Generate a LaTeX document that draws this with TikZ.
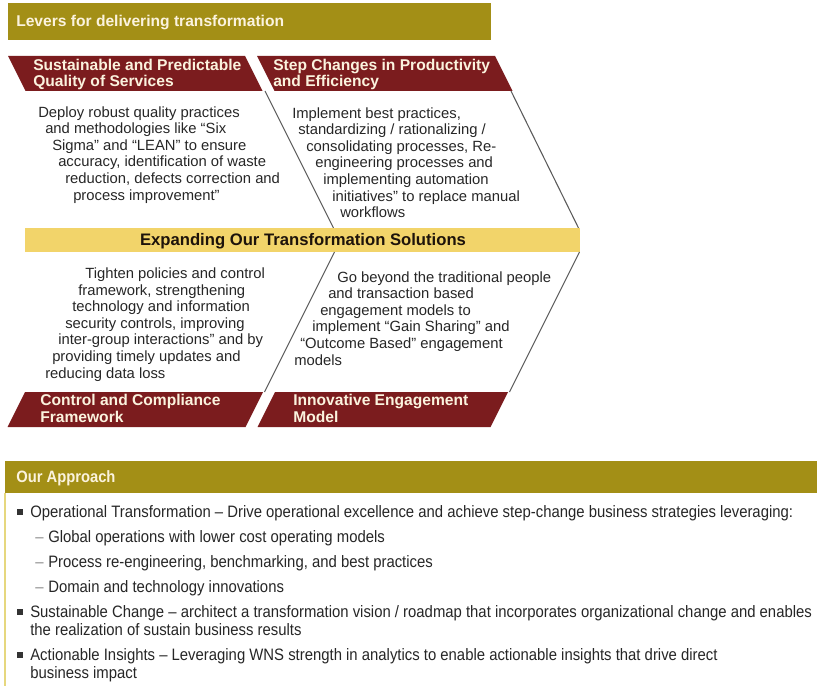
\documentclass[tikz,border=0pt]{standalone}
\usepackage{fontspec}
\setmainfont{Liberation Sans}
\newfontfamily\narrowfont[FakeStretch=0.9]{Liberation Sans}
\definecolor{hdrolive}{HTML}{A38F16}
\definecolor{tabred}{HTML}{7B1C1E}
\definecolor{bandgold}{HTML}{F2D46A}
\definecolor{creamtxt}{HTML}{FBF3DE}
\definecolor{bodytxt}{HTML}{262626}
\definecolor{boxline}{HTML}{E6D77E}
\definecolor{divline}{HTML}{5A5A5A}
\newlength\pxu \setlength\pxu{0.75pt}
\newcommand\ind[1]{\hspace*{#1\pxu}}
\tikzset{
  hdrbar/.style={fill=hdrolive},
  tabshape/.style={fill=tabred},
  divider/.style={draw=divline, line width=0.8pt},
  hdrtext/.style={anchor=base west, inner sep=0pt, text=creamtxt, font=\bfseries\fontsize{11.7}{12.75}\selectfont},
  tabtext/.style={anchor=base west, inner sep=0pt, align=left, text=creamtxt, font=\bfseries\fontsize{11.7}{12.75}\selectfont},
  bodytext/.style={anchor=base west, inner sep=0pt, align=left, text=bodytxt, font=\fontsize{11.1}{12.45}\selectfont},
  bandtext/.style={anchor=base, inner sep=0pt, text=black!85!brown, font=\bfseries\fontsize{12.5}{14}\selectfont},
  apptext/.style={anchor=base west, inner sep=0pt, align=left, text=bodytxt, font=\narrowfont\fontsize{12.4}{13.5}\selectfont},
  subdash/.style={anchor=base west, inner sep=0pt, text=black!45, font=\narrowfont\fontsize{12.4}{13.5}\selectfont},
  bulletsq/.style={fill=black!80, minimum size=4.2pt, inner sep=0pt},
}
\begin{document}
\begin{tikzpicture}[x=0.75pt,y=-0.75pt]
\useasboundingbox (0,0) rectangle (817,685);
% top header
\fill[hdrbar] (8,3) rectangle (491,40);
\node[hdrtext] (levers) at (16,27) {Levers for delivering transformation};
% upper tabs
\fill[tabshape] (8,56) -- (245,56) -- (262.5,91) -- (25.5,91) -- cycle;
\fill[tabshape] (257,56) -- (495,56) -- (512.5,91) -- (274.5,91) -- cycle;
\node[tabtext] (tabA) at (33,87) {Sustainable and Predictable\\Quality of Services};
\node[tabtext] (tabB) at (273,87) {Step Changes in Productivity\\and Efficiency};
% upper dividers
\coordinate (uda) at (265,91);
\coordinate (udb) at (333.5,228);
\coordinate (ura) at (511,91);
\coordinate (urb) at (578.5,228);
\draw[divider] (uda) -- (udb);
\draw[divider] (ura) -- (urb);
% band
\fill[bandgold] (25,228) rectangle (580,252);
\node[bandtext] (band) at (303,245.5) {Expanding Our Transformation Solutions};
% lower dividers
\coordinate (lda) at (334.5,252);
\coordinate (ldb) at (264.5,392);
\coordinate (lra) at (579.5,252);
\coordinate (lrb) at (509.5,392);
\draw[divider] (lda) -- (ldb);
\draw[divider] (lra) -- (lrb);
% lower tabs
\fill[tabshape] (25,392) -- (263,392) -- (245.5,427) -- (7.5,427) -- cycle;
\fill[tabshape] (275,392) -- (508,392) -- (490.5,427) -- (257.5,427) -- cycle;
\node[tabtext] (tabC) at (40,422) {Control and Compliance\\Framework};
\node[tabtext] (tabD) at (293,422) {Innovative Engagement\\Model};
% panel texts (anchor at baseline of last line)
\node[bodytext] (txtA) at (38,200) {Deploy robust quality practices\\
\ind{7}and methodologies like “Six\\
\ind{14}Sigma” and “LEAN” to ensure\\
\ind{20}accuracy, identification of waste\\
\ind{27}reduction, defects correction and\\
\ind{35}process improvement”};
\node[bodytext] (txtB) at (292,217.6) {Implement best practices,\\
\ind{6}standardizing / rationalizing /\\
\ind{14}consolidating processes, Re-\\
\ind{23}engineering processes and\\
\ind{31}implementing automation\\
\ind{40}initiatives” to replace manual\\
\ind{48}workflows};
\node[bodytext] (txtC) at (45,378) {\ind{40}Tighten policies and control\\
\ind{33}framework, strengthening\\
\ind{27}technology and information\\
\ind{20}security controls, improving\\
\ind{13}inter-group interactions” and by\\
\ind{7}providing timely updates and\\
reducing data loss};
\node[bodytext] (txtD) at (294,365) {\ind{43}Go beyond the traditional people\\
\ind{34}and transaction based\\
\ind{26}engagement models to\\
\ind{18}implement “Gain Sharing” and\\
\ind{6}“Outcome Based” engagement\\
models};
% bottom section
\draw[boxline, line width=1pt] (5,493) -- (5,690);
\fill[hdrbar] (5,461) rectangle (817,493);
\node[anchor=base west, inner sep=0pt, text=creamtxt, font=\narrowfont\bfseries\fontsize{12.3}{13}\selectfont] (approach) at (16,482) {Our Approach};
\node[bulletsq] (b1) at (20,512) {};
\node[apptext] (t1) at (30,517) {Operational Transformation – Drive operational excellence and achieve step-change business strategies leveraging:};
\node[subdash] (d1) at (35,542) {–};
\node[apptext] (s1) at (48,542) {Global operations with lower cost operating models};
\node[subdash] (d2) at (35,567) {–};
\node[apptext] (s2) at (48,567) {Process re-engineering, benchmarking, and best practices};
\node[subdash] (d3) at (35,592) {–};
\node[apptext] (s3) at (48,592) {Domain and technology innovations};
\node[bulletsq] (b2) at (20,612) {};
\node[apptext] (t2) at (30,635) {Sustainable Change – architect a transformation vision / roadmap that incorporates organizational change and enables\\the realization of sustain business results};
\node[bulletsq] (b3) at (20,655) {};
\node[apptext] (t3) at (30,678) {Actionable Insights – Leveraging WNS strength in analytics to enable actionable insights that drive direct\\business impact};
\end{tikzpicture}
\end{document}
